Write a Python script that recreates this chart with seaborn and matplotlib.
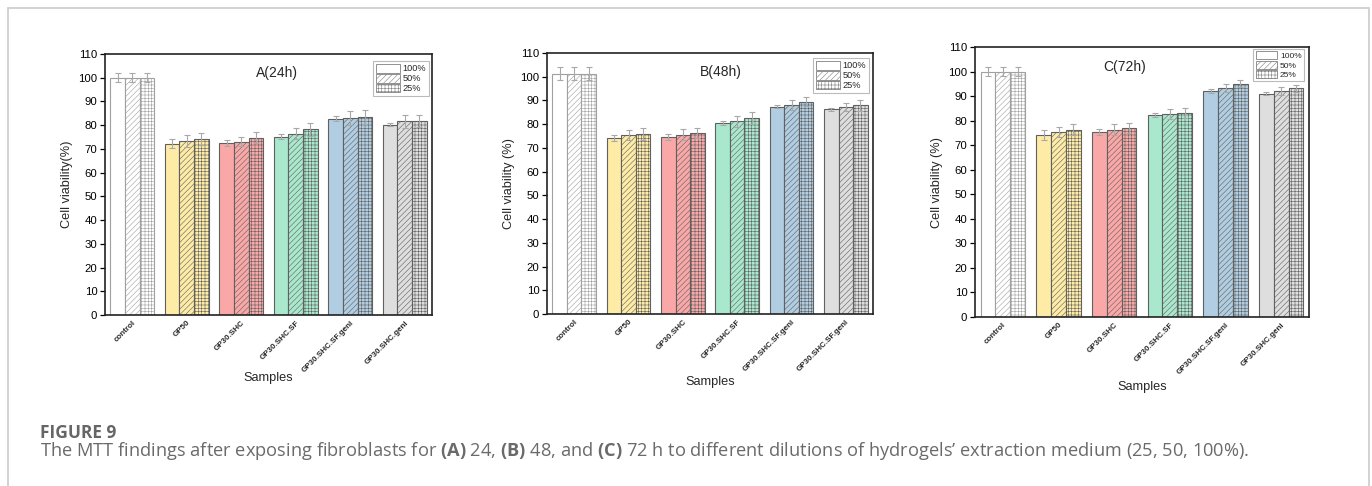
import numpy as np
import pandas as pd
import seaborn as sns
import matplotlib
matplotlib.use("Agg")
import matplotlib.pyplot as plt
from matplotlib.patches import Patch, Rectangle

sns.set_theme(style="white")
plt.rcParams['font.family'] = ['Liberation Sans', 'DejaVu Sans']
plt.rcParams['mathtext.fontset'] = 'custom'
plt.rcParams['mathtext.rm'] = 'Open Sans'
plt.rcParams['mathtext.bf'] = 'Open Sans:bold'
plt.rcParams['hatch.linewidth'] = 0.4

# ---------------- data ----------------
samples = ["control", "GP50", "GP30.SHC", "GP30.SHC.SF", "GP30.SHC.SF.geni", "GP30.SHC.geni"]
dilutions = ["100%", "50%", "25%"]

labels_A = ["control", "GP50", "GP30.SHC", "GP30.SHC.SF", "GP30.SHC.SF.geni", "GP30.SHC.geni"]
labels_B = ["control", "GP50", "GP30.SHC", "GP30.SHC.SF", "GP30.SHC.SF.geni", "GP30.SHC.SF.geni"]
labels_C = ["control", "GP50", "GP30.SHC", "GP30.SHC.SF", "GP30.SHC.SF.geni", "GP30.SHC.geni"]

# values per sample: [100%, 50%, 25%]
vals_A = [[100, 100, 100], [72.2, 73.3, 74.1], [72.6, 73.1, 74.8],
          [75.2, 76.4, 78.2], [82.8, 83.0, 83.5], [80.2, 81.7, 81.8]]
errs_A = [[2.0, 2.0, 2.0], [1.8, 2.4, 2.4], [1.2, 1.9, 2.4],
          [1.1, 2.4, 2.9], [1.0, 2.9, 2.9], [0.7, 2.8, 2.5]]

vals_B = [[101.3, 101.3, 101.3], [74.1, 75.5, 76.0], [74.6, 75.5, 76.2],
          [80.5, 81.3, 82.6], [87.4, 88.1, 89.5], [86.3, 87.2, 88.0]]
errs_B = [[2.6, 2.6, 2.6], [1.2, 2.0, 2.5], [1.2, 2.3, 2.2],
          [1.0, 2.3, 2.4], [0.5, 2.0, 2.0], [0.6, 1.7, 2.3]]

vals_C = [[100, 100, 100], [74.2, 75.4, 76.3], [75.4, 76.3, 77.0],
          [82.3, 82.7, 83.2], [92.1, 93.3, 95.0], [91.0, 92.1, 93.2]]
errs_C = [[2.0, 2.0, 2.0], [1.9, 2.2, 2.3], [1.2, 2.2, 2.2],
          [1.0, 2.2, 2.0], [0.7, 1.5, 1.4], [0.6, 1.5, 1.5]]

titles = ["A(24h)", "B(48h)", "C(72h)"]
ylabels = ["Cell viability(%)", "Cell viability (%)", "Cell viability (%)"]

# ---------------- styles ----------------
sample_colors = ["#FFFFFF", "#FDEBA6", "#F9A8A7", "#A9E8CD", "#B1CDE2", "#DEDEDE"]
hatches = ["", "//////", "+++++"]

W, H = 1372, 486
fig = plt.figure(figsize=(W / 100, H / 100), dpi=100)

# page frame
fig.add_artist(Rectangle((8 / W, -0.1), (1369 - 8) / W, 1.1 - 8 / H,
                         transform=fig.transFigure, fill=False,
                         edgecolor="#cfcfcf", linewidth=1.3))

# axes boxes in pixels: left, right, top, bottom
boxes = [(105, 432, 54, 315), (547, 873, 53, 314), (975, 1309, 47, 317)]
title_pos = [(2.66, 102), (2.69, 102), (2.19, 101.8)]
legend_anchor = [(429, 61), (869, 58), (1304, 49)]
legend_fs = [6.6, 6.6, 6.0]
xlabel_y = [378, 382, 387]

datasets = [(vals_A, errs_A, labels_A), (vals_B, errs_B, labels_B), (vals_C, errs_C, labels_C)]

for i, ((vals, errs, tlabels), (l, r, t, b)) in enumerate(zip(datasets, boxes)):
    ax = fig.add_axes([l / W, 1 - b / H, (r - l) / W, (b - t) / H])
    rows = []
    for s, v in zip(samples, vals):
        for d, val in zip(dilutions, v):
            rows.append({"sample": s, "dilution": d, "value": val})
    df = pd.DataFrame(rows)
    sns.barplot(data=df, x="sample", y="value", hue="dilution", order=samples,
                hue_order=dilutions, errorbar=None, width=0.8, ax=ax,
                legend=False, saturation=1)
    bar_conts = list(ax.containers)
    for j, cont in enumerate(bar_conts):
        for k, bar in enumerate(cont):
            bar.set_facecolor(sample_colors[k])
            bar.set_edgecolor("#a0a0a0" if k == 0 else "#606060")
            bar.set_linewidth(0.8)
            bar.set_hatch(hatches[j])
        xs = [bar.get_x() + bar.get_width() / 2 for bar in cont]
        ys = [bar.get_height() for bar in cont]
        es = [errs[k][j] for k in range(len(samples))]
        ax.errorbar(xs, ys, yerr=es, fmt="none", ecolor="#a8a8a8",
                    elinewidth=0.8, capsize=2.5, capthick=0.8, zorder=5)

    ax.set_xlim(-0.5, 5.5)
    ax.set_ylim(0, 110)
    ax.set_yticks(np.arange(0, 111, 10))
    ax.tick_params(axis="y", direction="out", length=3.5, width=0.9,
                   labelsize=8.2, pad=2, left=True, colors="black")
    ax.tick_params(axis="x", length=0, pad=3)
    ax.set_xticks(range(len(samples)))
    ax.set_xticklabels(tlabels, rotation=45, ha="right", rotation_mode="anchor",
                       fontsize=5.8, fontweight="bold")
    ax.set_xlabel("")
    ax.set_ylabel(ylabels[i], fontsize=9.2, labelpad=4)
    for sp in ax.spines.values():
        sp.set_visible(True)
        sp.set_color("#222222")
        sp.set_linewidth(1.2)
    ax.text(title_pos[i][0], title_pos[i][1], titles[i], ha="center", va="center",
            fontsize=10)
    fig.text(((l + r) / 2) / W, 1 - xlabel_y[i] / H, "Samples", ha="center",
             va="center", fontsize=9.2)

    handles = [Patch(facecolor="white", edgecolor="#808080", hatch=h, linewidth=0.6)
               for h in hatches]
    ax_leg = ax.legend(handles, dilutions, loc="upper right",
                       bbox_to_anchor=(legend_anchor[i][0] / W, 1 - legend_anchor[i][1] / H),
                       bbox_transform=fig.transFigure,
                       fontsize=legend_fs[i], frameon=True, fancybox=False,
                       edgecolor="#bbbbbb", framealpha=1, handlelength=2.6,
                       handleheight=1.1, handletextpad=0.3, borderpad=0.3,
                       labelspacing=0.05, borderaxespad=0)
    ax_leg.get_frame().set_linewidth(0.8)

# caption
fig.text(40 / W, 1 - 438 / H, "FIGURE 9", fontsize=12.5, fontweight="bold",
         color="#666666", family="Open Sans", ha="left", va="baseline")
cap = fig.text(40 / W, 1 - 456 / H,
               r"The MTT findings after exposing fibroblasts for $\mathbf{(A)}$ 24, "
               r"$\mathbf{(B)}$ 48, and $\mathbf{(C)}$ 72 h to different dilutions of "
               r"hydrogels’ extraction medium (25, 50, 100%).",
               fontsize=11, color="#6a6a6a", family="Open Sans", ha="left", va="baseline")
fig.canvas.draw()
wpx = cap.get_window_extent().width
cap.set_fontsize(11 * 1205 / wpx)

fig.savefig("out.png", dpi=100, facecolor="white")
